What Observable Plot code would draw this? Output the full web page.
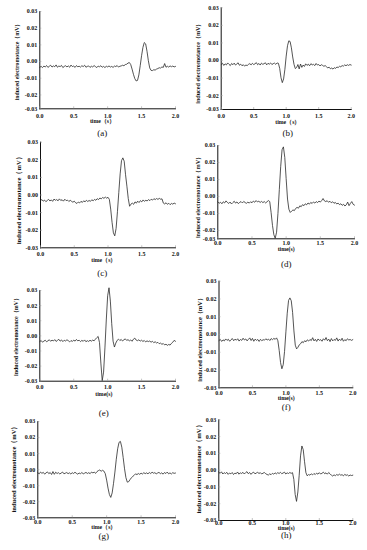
<!DOCTYPE html>
<html><head><meta charset="utf-8">
<script src="https://cdn.jsdelivr.net/npm/d3@7"></script>
<script src="https://cdn.jsdelivr.net/npm/@observablehq/plot@0.6"></script>
<style>
html,body{margin:0;padding:0;background:#fff;}
#fig{position:relative;width:367px;height:550px;overflow:hidden;background:#fff;}
#fig svg{position:absolute;}
</style></head><body><div id="fig"></div>
<script>
// ---- data ----
const panelNames = ["a","b","c","d","e","f","g","h"];
const timeStep = 0.02; // s between samples, t from 0 to 2 s
const xTickValues = [0, 0.5, 1, 1.5, 2];
const yTickValues = [0.03, 0.02, 0.01, 0, -0.01, -0.02, -0.03];
const xAxisTitles = ["time（s）","time（s）","time（s）","time(s)","time(s)","time(s)","time（s）","time(s)"];
const yAxisTitle = "induced electromotance（mV）";

const seriesA = [-0.0034,-0.0029,-0.0036,-0.0027,-0.0032,-0.0024,-0.0035,-0.0028,-0.0022,-0.0033,
-0.0026,-0.0031,-0.0020,-0.0034,-0.0027,-0.0030,-0.0023,-0.0036,-0.0029,-0.0025,
-0.0032,-0.0026,-0.0034,-0.0021,-0.0030,-0.0027,-0.0035,-0.0024,-0.0031,-0.0028,
-0.0033,-0.0025,-0.0030,-0.0022,-0.0034,-0.0029,-0.0026,-0.0035,-0.0028,-0.0032,
-0.0024,-0.0030,-0.0036,-0.0027,-0.0031,-0.0025,-0.0034,-0.0029,-0.0036,-0.0028,
-0.0032,-0.0026,-0.0033,-0.0029,-0.0035,-0.0027,-0.0030,-0.0024,-0.0033,-0.0028,
-0.0026,-0.0022,-0.0025,-0.0018,-0.0016,-0.0009,-0.0006,-0.0018,-0.0045,-0.0076,
-0.0102,-0.0116,-0.0113,-0.0080,-0.0025,0.0035,0.0085,0.0114,0.0106,0.0062,
0.0005,-0.0038,-0.0053,-0.0054,-0.0049,-0.0051,-0.0045,-0.0042,-0.0037,-0.0039,
-0.0032,-0.0035,-0.0012,-0.0034,-0.0028,-0.0033,-0.0026,-0.0031,-0.0027,-0.0032,
-0.0029];
const seriesB = [-0.0023,-0.0016,-0.0028,-0.0019,-0.0025,-0.0014,-0.0022,-0.0029,-0.0017,-0.0024,
-0.0015,-0.0026,-0.0020,-0.0013,-0.0027,-0.0021,-0.0030,-0.0024,-0.0032,-0.0026,
-0.0029,-0.0022,-0.0018,-0.0025,-0.0016,-0.0023,-0.0019,-0.0012,-0.0024,-0.0017,
-0.0026,-0.0015,-0.0022,-0.0018,-0.0013,-0.0025,-0.0016,-0.0021,-0.0014,-0.0023,
-0.0018,-0.0015,-0.0022,-0.0014,-0.0016,-0.0045,-0.0098,-0.0126,-0.0105,-0.0050,
0.0025,0.0084,0.0112,0.0108,0.0072,0.0020,-0.0022,-0.0046,-0.0040,-0.0023,
-0.0048,-0.0020,-0.0039,-0.0026,-0.0034,-0.0019,-0.0028,-0.0021,-0.0030,-0.0018,
-0.0025,-0.0022,-0.0029,-0.0017,-0.0026,-0.0023,-0.0031,-0.0024,-0.0028,-0.0033,
-0.0029,-0.0036,-0.0042,-0.0038,-0.0047,-0.0043,-0.0049,-0.0041,-0.0045,-0.0037,
-0.0040,-0.0033,-0.0036,-0.0029,-0.0032,-0.0025,-0.0030,-0.0024,-0.0028,-0.0023,
-0.0026];
const seriesC = [-0.0033,-0.0026,-0.0035,-0.0029,-0.0038,-0.0031,-0.0025,-0.0034,-0.0028,-0.0036,
-0.0023,-0.0030,-0.0026,-0.0033,-0.0022,-0.0031,-0.0027,-0.0035,-0.0024,-0.0032,
-0.0029,-0.0037,-0.0030,-0.0036,-0.0041,-0.0035,-0.0044,-0.0048,-0.0040,-0.0045,
-0.0036,-0.0042,-0.0033,-0.0039,-0.0030,-0.0037,-0.0031,-0.0036,-0.0027,-0.0033,
-0.0025,-0.0030,-0.0021,-0.0026,-0.0017,-0.0022,-0.0014,-0.0019,-0.0012,-0.0018,
-0.0013,-0.0025,-0.0080,-0.0155,-0.0215,-0.0232,-0.0190,-0.0095,0.0015,0.0120,
0.0195,0.0211,0.0192,0.0115,0.0050,-0.0020,-0.0064,-0.0052,-0.0046,-0.0053,
-0.0039,-0.0046,-0.0035,-0.0043,-0.0032,-0.0039,-0.0028,-0.0036,-0.0030,-0.0034,
-0.0026,-0.0032,-0.0024,-0.0029,-0.0021,-0.0026,-0.0020,-0.0025,-0.0019,-0.0024,
-0.0022,-0.0046,-0.0051,-0.0044,-0.0053,-0.0047,-0.0055,-0.0048,-0.0052,-0.0046,
-0.0050];
const seriesD = [-0.0032,-0.0040,-0.0034,-0.0043,-0.0031,-0.0038,-0.0026,-0.0035,-0.0041,-0.0033,
-0.0044,-0.0036,-0.0028,-0.0039,-0.0032,-0.0042,-0.0035,-0.0030,-0.0038,-0.0029,
-0.0036,-0.0040,-0.0033,-0.0039,-0.0031,-0.0037,-0.0027,-0.0034,-0.0024,-0.0032,
-0.0028,-0.0035,-0.0029,-0.0036,-0.0030,-0.0038,-0.0031,-0.0024,-0.0030,-0.0095,
-0.0170,-0.0225,-0.0246,-0.0210,-0.0100,0.0040,0.0175,0.0275,0.0292,0.0230,
0.0105,-0.0015,-0.0075,-0.0094,-0.0086,-0.0079,-0.0083,-0.0070,-0.0064,-0.0069,
-0.0055,-0.0060,-0.0048,-0.0054,-0.0043,-0.0049,-0.0038,-0.0045,-0.0035,-0.0041,
-0.0032,-0.0039,-0.0030,-0.0036,-0.0027,-0.0033,-0.0024,-0.0012,-0.0026,-0.0030,
-0.0025,-0.0034,-0.0028,-0.0037,-0.0031,-0.0040,-0.0035,-0.0044,-0.0039,-0.0048,
-0.0043,-0.0052,-0.0046,-0.0056,-0.0049,-0.0033,-0.0054,-0.0041,-0.0030,-0.0046,
-0.0051];
const seriesE = [-0.0038,-0.0031,-0.0042,-0.0035,-0.0029,-0.0039,-0.0033,-0.0026,-0.0036,-0.0028,
-0.0034,-0.0025,-0.0037,-0.0030,-0.0023,-0.0035,-0.0027,-0.0038,-0.0029,-0.0034,
-0.0026,-0.0032,-0.0040,-0.0031,-0.0037,-0.0028,-0.0035,-0.0024,-0.0033,-0.0029,
-0.0038,-0.0030,-0.0036,-0.0027,-0.0039,-0.0032,-0.0037,-0.0029,-0.0035,-0.0028,
-0.0033,-0.0022,-0.0012,-0.0004,-0.0045,-0.0180,-0.0296,-0.0240,-0.0080,0.0105,
0.0265,0.0318,0.0230,0.0080,-0.0035,-0.0074,-0.0048,-0.0030,-0.0022,-0.0031,
-0.0024,-0.0034,-0.0026,-0.0020,-0.0030,-0.0025,-0.0033,-0.0027,-0.0036,-0.0022,
-0.0015,-0.0028,-0.0032,-0.0026,-0.0035,-0.0029,-0.0037,-0.0031,-0.0040,-0.0033,
-0.0038,-0.0034,-0.0042,-0.0036,-0.0045,-0.0039,-0.0047,-0.0043,-0.0052,-0.0048,
-0.0056,-0.0051,-0.0060,-0.0055,-0.0063,-0.0057,-0.0061,-0.0050,-0.0042,-0.0030,
-0.0036];
const seriesF = [-0.0034,-0.0028,-0.0039,-0.0030,-0.0036,-0.0025,-0.0033,-0.0027,-0.0038,-0.0029,
-0.0023,-0.0035,-0.0026,-0.0032,-0.0024,-0.0037,-0.0028,-0.0033,-0.0021,-0.0031,
-0.0025,-0.0036,-0.0027,-0.0019,-0.0034,-0.0022,-0.0038,-0.0026,-0.0033,-0.0028,
-0.0039,-0.0027,-0.0035,-0.0029,-0.0032,-0.0024,-0.0031,-0.0026,-0.0034,-0.0023,
-0.0029,-0.0022,-0.0027,-0.0019,-0.0035,-0.0090,-0.0158,-0.0193,-0.0170,-0.0095,
0.0015,0.0120,0.0192,0.0206,0.0190,0.0125,0.0020,-0.0060,-0.0081,-0.0072,
-0.0058,-0.0052,-0.0040,-0.0046,-0.0035,-0.0041,-0.0030,-0.0037,-0.0028,-0.0034,
-0.0018,-0.0036,-0.0027,-0.0039,-0.0025,-0.0033,-0.0029,-0.0038,-0.0024,-0.0032,
-0.0017,-0.0035,-0.0026,-0.0040,-0.0023,-0.0036,-0.0028,-0.0033,-0.0019,-0.0037,
-0.0026,-0.0034,-0.0021,-0.0038,-0.0029,-0.0035,-0.0024,-0.0031,-0.0028,-0.0033,
-0.0029];
const seriesG = [-0.0019,-0.0026,-0.0015,-0.0023,-0.0017,-0.0028,-0.0020,-0.0014,-0.0025,-0.0018,
-0.0030,-0.0012,-0.0029,-0.0016,-0.0024,-0.0019,-0.0027,-0.0021,-0.0015,-0.0026,
-0.0022,-0.0018,-0.0025,-0.0020,-0.0027,-0.0019,-0.0024,-0.0016,-0.0023,-0.0028,
-0.0021,-0.0025,-0.0018,-0.0026,-0.0022,-0.0017,-0.0024,-0.0019,-0.0025,-0.0015,
-0.0020,-0.0016,-0.0023,-0.0012,-0.0006,-0.0002,-0.0010,-0.0004,-0.0009,-0.0025,
-0.0065,-0.0115,-0.0155,-0.0173,-0.0145,-0.0085,-0.0015,0.0065,0.0130,0.0170,
0.0176,0.0140,0.0075,0.0005,-0.0050,-0.0078,-0.0075,-0.0062,-0.0050,-0.0042,
-0.0035,-0.0026,-0.0031,-0.0024,-0.0029,-0.0022,-0.0027,-0.0019,-0.0025,-0.0020,
-0.0026,-0.0018,-0.0024,-0.0016,-0.0022,-0.0019,-0.0026,-0.0021,-0.0017,-0.0025,
-0.0020,-0.0028,-0.0018,-0.0024,-0.0015,-0.0026,-0.0020,-0.0027,-0.0019,-0.0023,
-0.0021];
const seriesH = [-0.0012,-0.0019,-0.0010,-0.0023,-0.0015,-0.0020,-0.0013,-0.0025,-0.0017,-0.0022,
-0.0014,-0.0026,-0.0018,-0.0021,-0.0011,-0.0024,-0.0016,-0.0020,-0.0013,-0.0023,
-0.0015,-0.0009,-0.0021,-0.0014,-0.0025,-0.0016,-0.0012,-0.0022,-0.0017,-0.0013,
-0.0020,-0.0015,-0.0023,-0.0018,-0.0014,-0.0021,-0.0026,-0.0029,-0.0022,-0.0027,
-0.0019,-0.0024,-0.0016,-0.0022,-0.0015,-0.0020,-0.0013,-0.0021,-0.0017,-0.0012,
-0.0023,-0.0016,-0.0020,-0.0014,-0.0019,-0.0015,-0.0055,-0.0145,-0.0186,-0.0130,
-0.0030,0.0085,0.0144,0.0122,0.0050,-0.0015,-0.0034,-0.0026,-0.0030,-0.0022,
-0.0028,-0.0020,-0.0026,-0.0018,-0.0024,-0.0015,-0.0023,-0.0019,-0.0012,-0.0021,
-0.0016,-0.0024,-0.0014,-0.0022,-0.0030,-0.0035,-0.0028,-0.0033,-0.0026,-0.0031,
-0.0024,-0.0030,-0.0027,-0.0034,-0.0025,-0.0031,-0.0028,-0.0035,-0.0029,-0.0032,
-0.0030];
const allSeries = [seriesA, seriesB, seriesC, seriesD, seriesE, seriesF, seriesG, seriesH];
// lowest value of each panel's y axis (labelled -0.03 at the axis bottom)
const yAxisMin = [-0.0283, -0.0279, -0.03, -0.0249, -0.03, -0.03, -0.03, -0.03];

// ---- layout (pixels) ----
const layout = [
 {left:0,  top:0,   w:184, h:138, x0:39.3,  x1:175,   y0:11,    y1:108.3, xPad:5.0, xt:[102,122.6],   yt:[16.7,60,5.8],    cap:[101.7,135]},
 {left:184,top:0,   w:183, h:138, x0:220.7, x1:350.7, y0:7.3,   y1:109,   xPad:4.6, xt:[287.3,123.4], yt:[198,61.7,6.1],   cap:[287.3,135]},
 {left:0,  top:138, w:184, h:140, x0:40,    x1:175,   y0:141.7, y1:247.3, xPad:3.6, xt:[103.3,261.5], yt:[18.3,198.3,6.6], cap:[101.7,275]},
 {left:184,top:138, w:183, h:140, x0:217.3, x1:354,   y0:145,   y1:238.3, xPad:2.2, xt:[285.7,250.0], yt:[197.3,195.5,6.2],cap:[285.7,266]},
 {left:0,  top:278, w:184, h:138, x0:39.3,  x1:175,   y0:290,   y1:380.7, xPad:3.5, xt:[103.3,395.2], yt:[16,335,5.9],     cap:[103.3,415]},
 {left:184,top:278, w:183, h:138, x0:218.5, x1:352.3, y0:280.7, y1:387.3, xPad:3.0, xt:[285.7,399.8], yt:[199,338,6.4],    cap:[285.7,409.6]},
 {left:0,  top:416, w:184, h:134, x0:37.3,  x1:175,   y0:421,   y1:517.3, xPad:1.8, xt:[103.3,528.5], yt:[13.3,467,6.5],   cap:[103.3,538.4]},
 {left:184,top:416, w:183, h:134, x0:218.3, x1:352.3, y0:419.3, y1:520,   xPad:0.5, xt:[285.7,529.7], yt:[198,467,6.7],    cap:[285.7,537.9]}
];

const serif = "'Liberation Serif','Times New Roman',serif";
const fig = document.getElementById("fig");

panelNames.forEach((name, i) => {
  const L = layout[i];
  const yMin = yAxisMin[i];
  const data = allSeries[i].map((v, k) => ({t: k * timeStep, v}));
  const yTicks = yTickValues.map(v => v === -0.03 ? yMin : v);
  const fw = L.x1 - L.x0, fh = L.y1 - L.y0;
  const cx = (L.x0 + L.x1) / 2, cy = (L.y0 + L.y1) / 2;
  const svg = Plot.plot({
    width: L.w, height: L.h,
    marginLeft: L.x0 - L.left, marginRight: L.left + L.w - L.x1,
    marginTop: L.y0 - L.top, marginBottom: L.top + L.h - L.y1,
    style: {background: "none", overflow: "visible", fontFamily: serif, fontSize: "6px", fontWeight: "bold", color: "#111"},
    x: {domain: [0, 2], ticks: xTickValues, tickFormat: d => d.toFixed(1), tickSize: 0, tickPadding: L.xPad, label: null, line: true},
    y: {domain: [yMin, 0.03], ticks: yTicks, tickFormat: d => (d === yMin ? -0.03 : d).toFixed(2), tickSize: 0, tickPadding: 2.5, label: null, line: true},
    marks: [
      Plot.tickY(yTicks, {y: d => d, stroke: "#9a9a9a", strokeWidth: 0.6, insetRight: fw - 2}),
      Plot.tickX(xTickValues, {x: d => d, stroke: "#9a9a9a", strokeWidth: 0.6, insetTop: fh - 2}),
      Plot.line(data, {x: "t", y: "v", stroke: "#2a2a2a", strokeWidth: 0.8}),
      Plot.text([xAxisTitles[i]], {text: d => d, frameAnchor: "bottom", textAnchor: "middle", dx: L.xt[0] - cx, dy: L.xt[1] - L.y1, fontSize: 5.8, fontWeight: "bold", fontFamily: serif, fill: "#111"}),
      Plot.text([yAxisTitle], {text: d => d, frameAnchor: "left", textAnchor: "middle", rotate: -90, dx: L.yt[0] - L.x0, dy: L.yt[1] - cy, fontSize: L.yt[2], fontWeight: "bold", fontFamily: serif, fill: "#111"}),
      Plot.text([`(${name})`], {text: d => d, frameAnchor: "bottom", textAnchor: "middle", dx: L.cap[0] - cx, dy: L.cap[1] - L.y1, fontSize: 9, fontWeight: "normal", fontFamily: serif, fill: "#111"})
    ]
  });
  svg.style.left = L.left + "px";
  svg.style.top = L.top + "px";
  fig.appendChild(svg);
});
</script></body></html>
